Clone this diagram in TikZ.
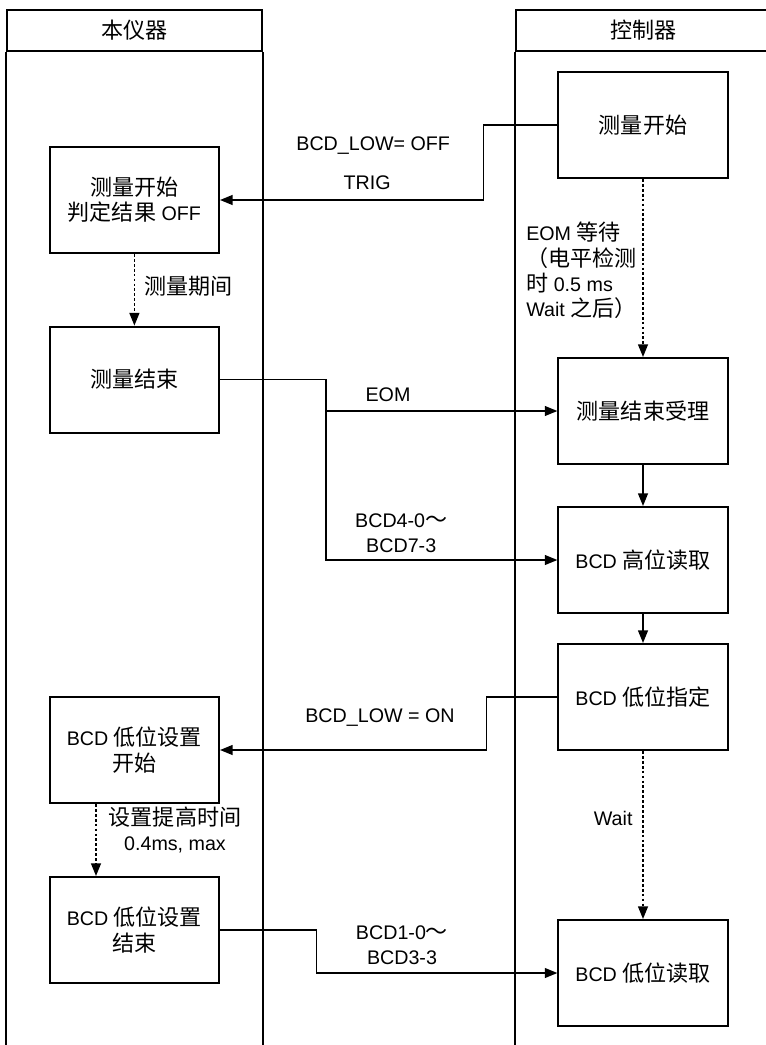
\documentclass[tikz,border=0pt]{standalone}
\usepackage{fontspec}
\setmainfont{Liberation Sans}
\newfontfamily\cjk[Scale=1.12]{Noto Sans CJK SC}
\newcommand{\zh}[1]{{\cjk #1}}
\usetikzlibrary{arrows.meta,positioning,calc}

\begin{document}
\begin{tikzpicture}[
  hdr/.style={rectangle, draw, line width=1.4pt, minimum width=6.375cm,
              minimum height=1.025cm, font=\fontsize{14}{18}\selectfont},
  lane/.style={line width=1.4pt},
  sbox/.style={rectangle, draw, line width=1.4pt, fill=white,
               minimum width=4.23cm, minimum height=2.65cm,
               font=\fontsize{14}{18}\selectfont, align=center},
  lbl/.style={font=\fontsize{14}{18}\selectfont, align=center, inner sep=0pt},
  farr/.style={-{Triangle[length=9pt,width=7pt]}, line width=1.2pt},
  darr/.style={farr, dash pattern=on 2pt off 1.5pt}
]
\useasboundingbox (0,0) rectangle (19.125,-26.125);

% Lanes
\node[hdr] (hdrA) at (3.36,-0.765)  {\zh{本仪器}};
\node[hdr] (hdrB) at (16.09,-0.765) {\zh{控制器}};
\draw[lane] (hdrA.south west) -- ++(0,-25.5);
\draw[lane] (hdrA.south east) -- ++(0,-25.5);
\draw[lane] (hdrB.south west) -- ++(0,-25.5);

% Instrument side
\node[sbox] (b1) at (3.36,-5.0)   {\zh{测量开始}\\\zh{判定结果} OFF};
\node[sbox] (b2) at (3.36,-9.49)  {\zh{测量结束}};
\node[sbox] (b3) at (3.36,-18.75) {BCD \zh{低位设置}\\\zh{开始}};
\node[sbox] (b4) at (3.36,-23.25) {BCD \zh{低位设置}\\\zh{结束}};

% Controller side
\node[sbox] (c1) at (16.075,-3.125)  {\zh{测量开始}};
\node[sbox] (c2) at (16.075,-10.275) {\zh{测量结束受理}};
\node[sbox] (c3) at (16.075,-14.0)   {BCD \zh{高位读取}};
\node[sbox] (c4) at (16.075,-17.425) {BCD \zh{低位指定}};
\node[sbox] (c5) at (16.075,-24.325) {BCD \zh{低位读取}};

% Steps within a lane
\draw[darr] (b1.south) -- (b2.north);
\draw[darr] (b3.south -| 2.4,0) -- (b4.north -| 2.4,0);
\draw[darr] (c1.south) -- (c2.north);
\draw[farr] (c2.south) -- (c3.north);
\draw[farr] (c3.south) -- (c4.north);
\draw[darr] (c4.south) -- (c5.north);

% Signals
\draw[farr] (c1.west) -- ++(-1.85,0) |- (b1.east);
\coordinate (bus) at (8.15,-9.49);
\draw[farr] (b2.east) -- (bus) |- (c3.west);
\draw[farr] (bus |- c2.west) -- (c2.west);
\draw[farr] (c4.west) -- ++(-1.775,0) |- (b3.east);
\draw[farr] (b4.east) -- ++(2.41,0) |- (c5.west);

% Labels
\node[lbl] (l1) at (9.33,-3.65)  {BCD\_LOW= OFF};
\node[lbl] (l2) at (9.18,-4.575) {TRIG};
\node[lbl, anchor=west] (l3) at (3.6,-7.15) {\zh{测量期间}};
\node[lbl, anchor=west, align=left] (l4) at (13.15,-6.76)
  {EOM \zh{等待}\\\zh{（电平检测}\\\zh{时} 0.5 ms\\Wait \zh{之后）}};
\node[lbl] (l5) at (9.7,-9.875)   {EOM};
\node[lbl] (l6) at (10.03,-13.33) {BCD4-0\zh{～}\\BCD7-3};
\node[lbl] (l7) at (9.5,-17.95)   {BCD\_LOW = ON};
\node[lbl] (l8) at (4.375,-20.75) {\zh{设置提高时间}\\0.4ms, max};
\node[lbl] (l9) at (15.33,-20.45) {Wait};
\node[lbl] (l10) at (10.05,-23.625) {BCD1-0\zh{～}\\BCD3-3};
\end{tikzpicture}
\end{document}
